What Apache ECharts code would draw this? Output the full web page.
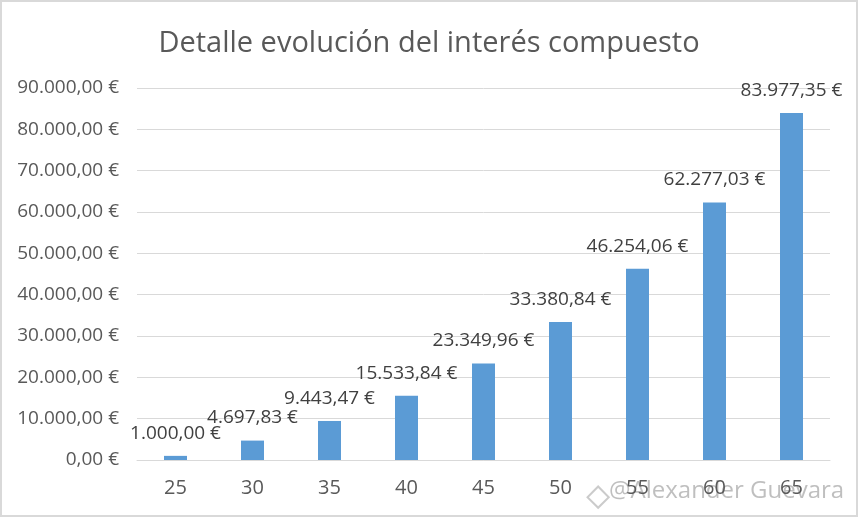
<!DOCTYPE html>
<html>
<head>
<meta charset="utf-8">
<script src="https://cdn.jsdelivr.net/npm/echarts@6/dist/echarts.min.js"></script>
<style>
  html, body { margin: 0; padding: 0; background: #fff; }
  #main { width: 858px; height: 517px; box-sizing: border-box; border: 2px solid #d9d9d9; }
</style>
</head>
<body>
<div id="main"></div>
<script>
var ages = ['25', '30', '35', '40', '45', '50', '55', '60', '65'];
var capital = [1000.00, 4697.83, 9443.47, 15533.84, 23349.96, 33380.84, 46254.06, 62277.03, 83977.35];

function euro(v) {
  var parts = v.toFixed(2).split('.');
  var ent = parts[0].replace(/\B(?=(\d{3})+(?!\d))/g, '.');
  return ent + ',' + parts[1] + ' €';
}

var chart = echarts.init(document.getElementById('main'));
chart.setOption({
  animation: false,
  title: {
    text: 'Detalle evolución del interés compuesto',
    left: 'center',
    top: 22,
    textStyle: { fontFamily: 'Open Sans', fontWeight: 'normal', fontSize: 29, color: '#595959' }
  },
  grid: { left: 135, right: 26, top: 86, bottom: 55 },
  xAxis: {
    type: 'category',
    data: ages,
    axisLine: { lineStyle: { color: '#d9d9d9' } },
    axisTick: { show: false },
    axisLabel: { color: '#595959', fontSize: 20, fontFamily: 'Open Sans', margin: 18 }
  },
  yAxis: {
    type: 'value',
    min: 0,
    max: 90000,
    interval: 10000,
    axisLine: { show: false },
    axisTick: { show: false },
    splitLine: { lineStyle: { color: '#d9d9d9' } },
    axisLabel: {
      color: '#595959', fontSize: 19, fontFamily: 'Open Sans', margin: 18,
      formatter: function (v) { return euro(v); }
    }
  },
  series: [{
    type: 'bar',
    data: capital,
    barWidth: 23,
    itemStyle: { color: '#5b9bd5' },
    label: {
      show: true,
      position: 'top',
      distance: 13,
      color: '#404040',
      fontSize: 19,
      fontFamily: 'Open Sans',
      formatter: function (p) { return euro(p.value); }
    }
  }],
  graphic: [{
    type: 'rect',
    left: 582,
    top: 481,
    shape: { width: 15, height: 15 },
    rotation: Math.PI / 4,
    style: { fill: 'none', stroke: 'rgba(190,190,190,0.8)', lineWidth: 2 }
  }, {
    type: 'text',
    left: 607,
    top: 477,
    style: { text: '@Alexander Guevara', fontSize: 24, fontFamily: 'Open Sans', fill: 'rgba(170,170,170,0.75)' }
  }]
});
</script>
</body>
</html>
